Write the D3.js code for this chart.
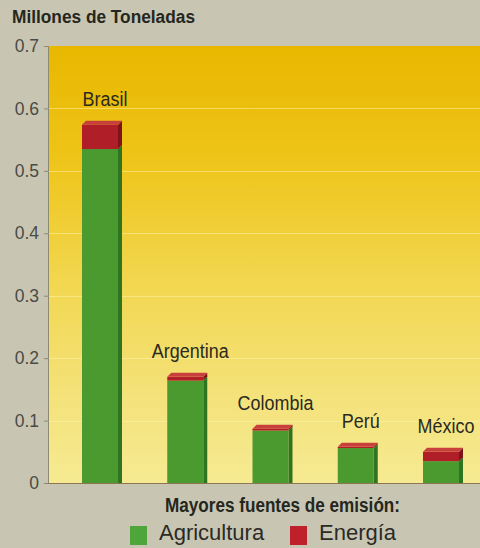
<!DOCTYPE html>
<html><head><meta charset="utf-8">
<script src="https://cdn.jsdelivr.net/npm/d3@7"></script>
<style>html,body{margin:0;padding:0;background:#c8c6b2;}svg{display:block;}</style>
</head><body>
<script>
const countries = ["Brasil", "Argentina", "Colombia", "Perú", "México"];
const agricultura = [0.535, 0.164, 0.084, 0.056, 0.035];
const energia = [0.039, 0.006, 0.003, 0.002, 0.015];
const yTicks = [0, 0.1, 0.2, 0.3, 0.4, 0.5, 0.6, 0.7];
const yTickLabels = ["0", "0.1", "0.2", "0.3", "0.4", "0.5", "0.6", "0.7"];
const titleText = "Millones de Toneladas";
const legendTitle = "Mayores fuentes de emisión:";
const seriesNames = ["Agricultura", "Energía"];

const W = 480, H = 548;
const plot = {left: 48, right: 480, top: 46, bottom: 483};
const svg = d3.select("body").append("svg").attr("width", W).attr("height", H);
const FONT = "'Liberation Sans', Arial, Helvetica, sans-serif";

svg.append("rect").attr("width", W).attr("height", H).attr("fill", "#c8c6b2");

const defs = svg.append("defs");
const grad = defs.append("linearGradient").attr("id", "bg").attr("x1", 0).attr("y1", 0).attr("x2", 0).attr("y2", 1);
[[0, "#e8b700"], [0.25, "#eec418"], [0.55, "#f2d751"], [0.8, "#f4e27a"], [1, "#f6ea92"]]
  .forEach(([o, c]) => grad.append("stop").attr("offset", o).attr("stop-color", c));

const y = d3.scaleLinear().domain([0, 0.7]).range([plot.bottom, plot.top]);
const x = d3.scalePoint().domain(countries).range([100, 441]);

svg.append("rect").attr("x", plot.left).attr("y", plot.top)
  .attr("width", plot.right - plot.left).attr("height", plot.bottom - plot.top)
  .attr("fill", "url(#bg)");

// gridlines
svg.append("g").selectAll("line").data(yTicks.slice(1, -1)).join("line")
  .attr("x1", plot.left).attr("x2", plot.right)
  .attr("y1", d => Math.round(y(d)) + 0.5).attr("y2", d => Math.round(y(d)) + 0.5)
  .attr("stroke", "#fff6b0").attr("stroke-opacity", 0.5).attr("stroke-width", 1);

// y axis
const yAxis = d3.axisLeft(y).tickValues(yTicks).tickFormat((d, i) => yTickLabels[i]).tickSize(4).tickPadding(5);
const ga = svg.append("g").attr("transform", `translate(${plot.left},0)`).call(yAxis);
ga.select(".domain").attr("stroke", "#8c8a72");
ga.selectAll(".tick line").attr("stroke", "#8c8a72");
ga.selectAll(".tick text").attr("fill", "#4a4a46").attr("font-family", FONT).attr("font-size", 17.5);

// baseline
svg.append("line").attr("x1", plot.left).attr("x2", plot.right)
  .attr("y1", plot.bottom + 0.5).attr("y2", plot.bottom + 0.5)
  .attr("stroke", "#8a7650").attr("stroke-width", 1.2);

// bars
const bw = 36, d3d = 4;
const colors = {
  agri: {front: "#4b9a30", side: "#2f7420", top: "#62b040"},
  ener: {front: "#b01e28", side: "#7e1419", top: "#c8403c"}
};
const bars = svg.append("g");
countries.forEach((c, i) => {
  const x0 = x(c) - bw / 2, x1 = x0 + bw;
  const segs = [
    {lo: 0, hi: agricultura[i], col: colors.agri},
    {lo: agricultura[i], hi: agricultura[i] + energia[i], col: colors.ener}
  ];
  segs.forEach((s, k) => {
    const yl = y(s.lo), yh = y(s.hi);
    bars.append("path")
      .attr("d", `M${x1},${yh} L${x1 + d3d},${yh - d3d} L${x1 + d3d},${yl - (k === 0 ? 0 : d3d)} L${x1},${yl} Z`)
      .attr("fill", s.col.side);
    bars.append("rect").attr("x", x0).attr("y", yh).attr("width", bw).attr("height", Math.max(0, yl - yh))
      .attr("fill", s.col.front);
  });
  const yt = y(agricultura[i] + energia[i]);
  bars.append("path")
    .attr("d", `M${x0},${yt} L${x0 + d3d},${yt - d3d} L${x1 + d3d},${yt - d3d} L${x1},${yt} Z`)
    .attr("fill", colors.ener.top);
  const t = bars.append("text").attr("x", x(c) + 5).attr("y", yt - 19)
    .attr("text-anchor", "middle").attr("font-family", FONT).attr("font-size", 19.5)
    .attr("fill", "#2a2a20").text(c);
  const len = t.node().getComputedTextLength();
  t.attr("textLength", len * 0.92).attr("lengthAdjust", "spacingAndGlyphs");
});

// title
svg.append("text").attr("x", 12).attr("y", 23).attr("font-family", FONT).attr("font-weight", "bold")
  .attr("font-size", 17.5).attr("fill", "#262620").attr("textLength", 183).attr("lengthAdjust", "spacingAndGlyphs")
  .text(titleText);

// legend
svg.append("text").attr("x", 165).attr("y", 512).attr("font-family", FONT).attr("font-weight", "bold")
  .attr("font-size", 20).attr("fill", "#262620").attr("textLength", 235).attr("lengthAdjust", "spacingAndGlyphs")
  .text(legendTitle);
const legendColors = ["#4ea53a", "#c0202a"];
const legendX = [130, 290];
seriesNames.forEach((n, i) => {
  svg.append("rect").attr("x", legendX[i]).attr("y", 526).attr("width", 17).attr("height", 19)
    .attr("fill", legendColors[i]);
  svg.append("text").attr("x", legendX[i] + 29).attr("y", 540).attr("font-family", FONT)
    .attr("font-size", 22).attr("fill", "#2a2a26").text(n);
});
</script>
</body></html>
